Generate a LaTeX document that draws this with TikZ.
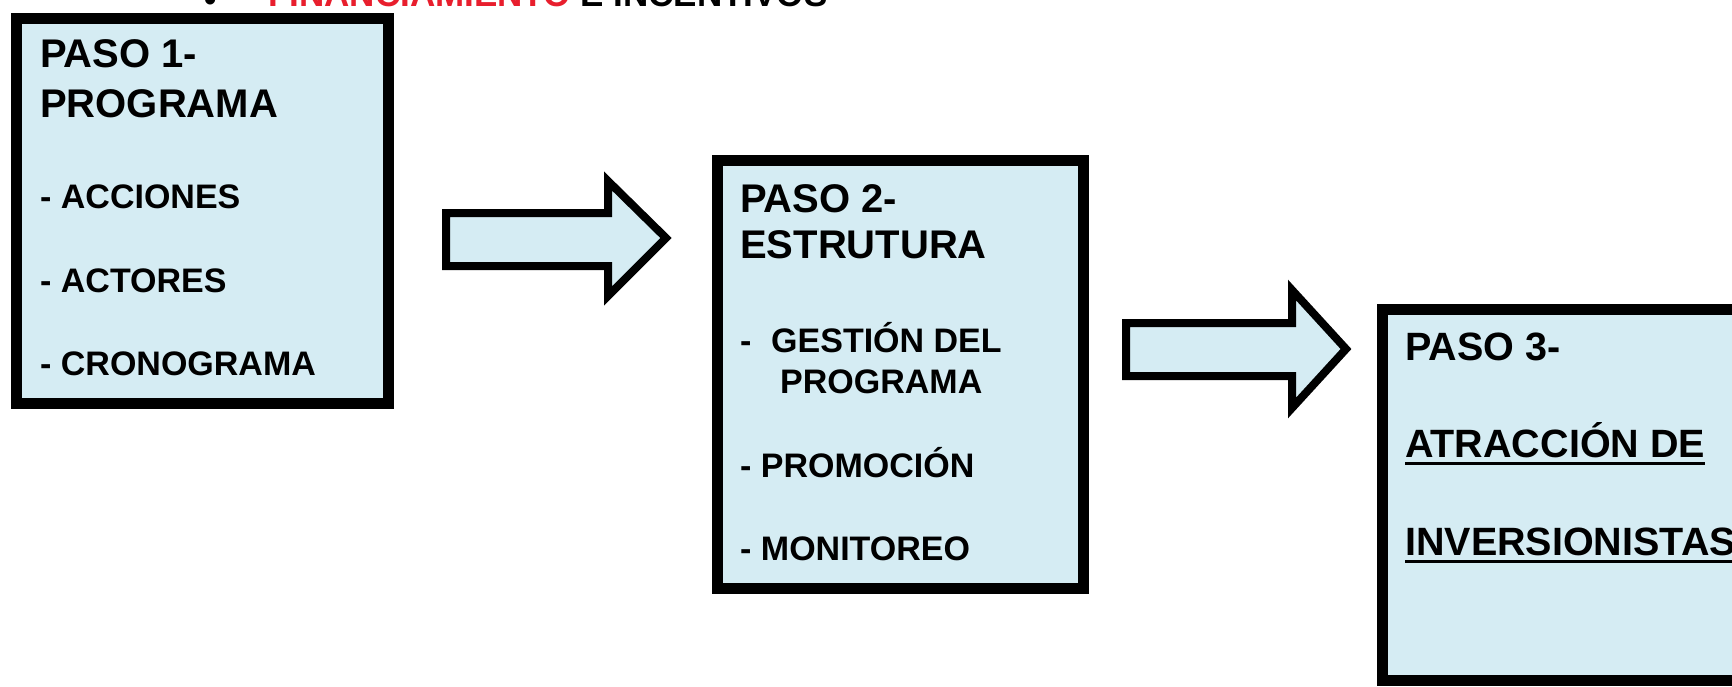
\documentclass[tikz,border=0pt]{standalone}
\usepackage{fontspec}
\setmainfont{Liberation Sans}
\definecolor{boxfill}{RGB}{213,236,243}
\definecolor{redtxt}{RGB}{232,30,45}
\begin{document}
\begin{tikzpicture}[x=1pt,y=-1pt,
  box/.style={draw=black, line width=11pt, fill=boxfill, anchor=north west, inner sep=0pt, outer sep=0pt, line join=miter},
  blockarrow/.style={draw=black, line width=8pt, fill=boxfill, line join=miter},
  ttl/.style={anchor=base west, inner sep=0pt, font=\bfseries\fontsize{40}{46}\selectfont},
  itm/.style={anchor=base west, inner sep=0pt, font=\bfseries\fontsize{34}{40}\selectfont},
  itmc/.style={anchor=base west, inner sep=0pt, font=\bfseries\fontsize{39.5}{45}\selectfont},
  hd/.style={anchor=base west, inner sep=0pt, font=\bfseries\fontsize{35}{40}\selectfont},
  uline/.style={line width=3pt}]
\useasboundingbox (0,0) rectangle (1732,686);
\clip (0,0) rectangle (1732,686);
\fill[white] (0,0) rectangle (1732,686);

% partially visible heading
\node[hd] (bul) at (204,11) {•};
\node[hd] (head) at (268,6) {\textcolor{redtxt}{FINANCIAMIENTO} E INCENTIVOS};

% boxes
\node[box, minimum width=372pt, minimum height=385pt] (b1) at (16.5,18.5) {};
\node[box, minimum width=366pt, minimum height=428pt] (b2) at (717.5,160.5) {};
\node[box, minimum width=420pt, minimum height=371pt] (b3) at (1382.5,309.5) {};

% block arrows
\draw[blockarrow] (446,213) -- (608,213) -- (608,181) -- (666,238) -- (608,296) -- (608,266) -- (446,266) -- cycle;
\draw[blockarrow] (1126,323) -- (1292,323) -- (1292,290) -- (1346,349) -- (1292,408) -- (1292,376) -- (1126,376) -- cycle;

% box 1 text
\node[ttl] (t1a) at (40,67) {PASO 1-};
\node[ttl] (t1b) at (40,117) {PROGRAMA};
\node[itm] (t1c) at (40,208) {- ACCIONES};
\node[itm] (t1d) at (40,292) {- ACTORES};
\node[itm] (t1e) at (40,375) {- CRONOGRAMA};

% box 2 text
\node[ttl] (t2a) at (740,212) {PASO 2-};
\node[ttl] (t2b) at (740,258) {ESTRUTURA};
\node[itm] (t2c) at (740,352) {-};
\node[itm] (t2d) at (771,352) {GESTIÓN DEL};
\node[itm] (t2e) at (780,393) {PROGRAMA};
\node[itm] (t2f) at (740,477) {- PROMOCIÓN};
\node[itm] (t2g) at (740,560) {- MONITOREO};

% box 3 text
\node[itmc] (t3a) at (1405,360) {PASO 3-};
\node[itmc] (t3b) at (1405,457) {ATRACCIÓN DE};
\node[itmc] (t3c) at (1405,555) {INVERSIONISTAS};
\draw[uline] ([yshift=-6pt]t3b.base west) -- ([yshift=-6pt]t3b.base east);
\draw[uline] ([yshift=-6pt]t3c.base west) -- ([yshift=-6pt]t3c.base east);
\end{tikzpicture}
\end{document}
